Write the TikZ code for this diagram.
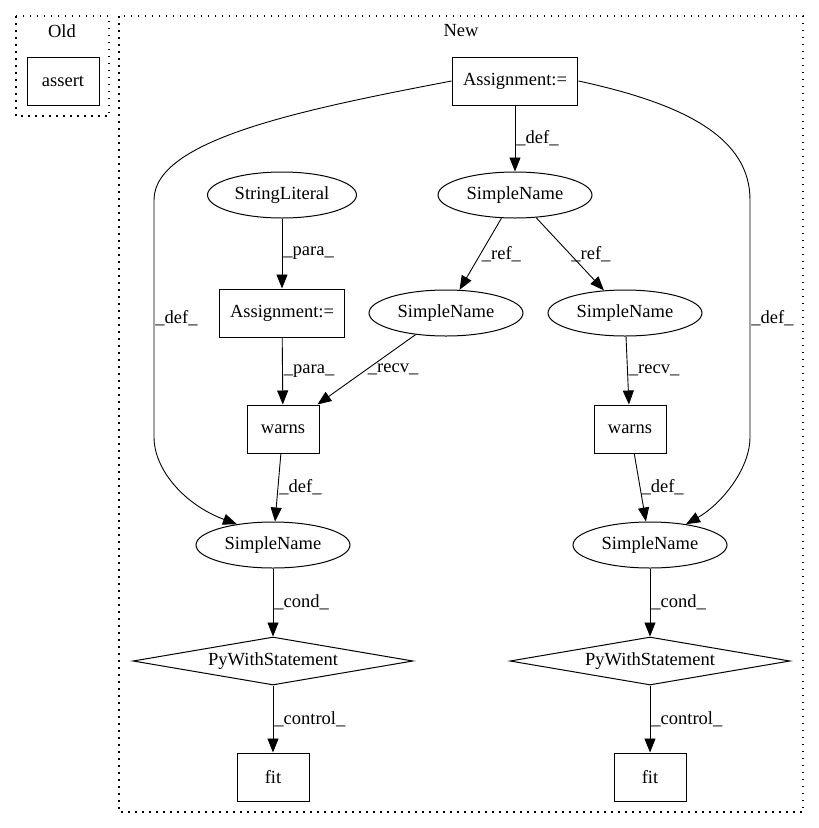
\documentclass[tikz,border=0pt]{standalone}
\usepackage{fontspec}
\setmainfont{Liberation Serif}
\usetikzlibrary{arrows.meta,shapes.geometric}

\begin{document}
\begin{tikzpicture}[x=1pt,y=-1pt,
		every node/.style={font=\fontsize{18.5pt}{21pt}\selectfont},
		box/.style={draw,line width=1pt,minimum width=72pt,minimum height=48pt,inner xsep=11pt},
		oval/.style={draw,ellipse,line width=1pt,minimum width=154pt,minimum height=46pt,inner sep=0pt},
		diam/.style={draw,diamond,line width=1pt,minimum width=280pt,minimum height=48pt,inner sep=0pt,shape aspect=5.8},
		cluster/.style={line width=1.1pt,dash pattern=on 1.5pt off 5.5pt},
		flow/.style={line width=0.9pt,-{Triangle[length=14pt,width=11pt]}},
		lbl/.style={anchor=west,inner sep=1pt}]
		\pgfmathsetmacro{\leftrail}{154}
		\pgfmathsetmacro{\rightrail}{750}
		
		\useasboundingbox (0,0) rectangle (819,828);
		\draw[cluster] (16,16) rectangle (109,116);
		\draw[cluster] (119,16) rectangle (803,812);
		\node (oldlbl) at (62,31) {Old};
		\node (newlbl) at (461,31) {New};
		\node[box] (assert) at (63,81) {assert};
		
		\node[box] (asgtop) at (515,81) {Assignment:=};
		\node[oval] (sntop) at (515,195) {SimpleName};
		\node[oval,minimum width=149pt] (strlit) at (282,195) {StringLiteral};
		\node[box] (asgmid) at (282,313) {Assignment:=};
		\node[oval] (snl) at (446,313) {SimpleName};
		\node[oval] (snr) at (625,313) {SimpleName};
		
		\foreach \s/\wx/\cx in {l/283/273, r/630/650}
		{
			\node[box] (warns\s) at (\wx,429) {warns};
			\node[oval] (snb\s) at (\cx,545) {SimpleName};
			\node[diam] (pyw\s) at (\cx,661) {PyWithStatement};
			\node[box] (fit\s) at (\cx,777) {fit};
			\draw[flow] (warns\s) -- node[lbl] {\_def\_} (snb\s);
			\draw[flow] (snb\s) -- node[lbl] {\_cond\_} (pyw\s);
			\draw[flow] (pyw\s) -- node[lbl] {\_control\_} (fit\s);
		}
		
		\draw[flow] (asgtop) -- node[lbl] {\_def\_} (sntop);
		\draw[flow] (strlit) -- node[lbl] {\_para\_} (asgmid);
		\draw[flow] (sntop) -- node[lbl] {\_ref\_} (snl);
		\draw[flow] (sntop) -- node[lbl] {\_ref\_} (snr);
		\draw[flow] (asgmid) -- node[lbl] {\_para\_} (warnsl);
		\draw[flow] (snl) -- node[lbl] {\_recv\_} (warnsl);
		\draw[flow] (snr) -- node[lbl] {\_recv\_} (warnsr);
		\draw[flow] (asgtop.west) .. controls (300,110) and (\leftrail,140) .. (\leftrail,200)
			-- node[lbl] {\_def\_} (\leftrail,437)
			.. controls (\leftrail,470) and (185,505) .. (snbl.150);
		\draw[flow] (asgtop.east) .. controls (690,105) and (\rightrail,140) .. (\rightrail,200)
			-- node[lbl] {\_def\_} (\rightrail,437)
			.. controls (\rightrail,470) and (720,505) .. (snbr.30);
	\end{tikzpicture}
\end{document}
